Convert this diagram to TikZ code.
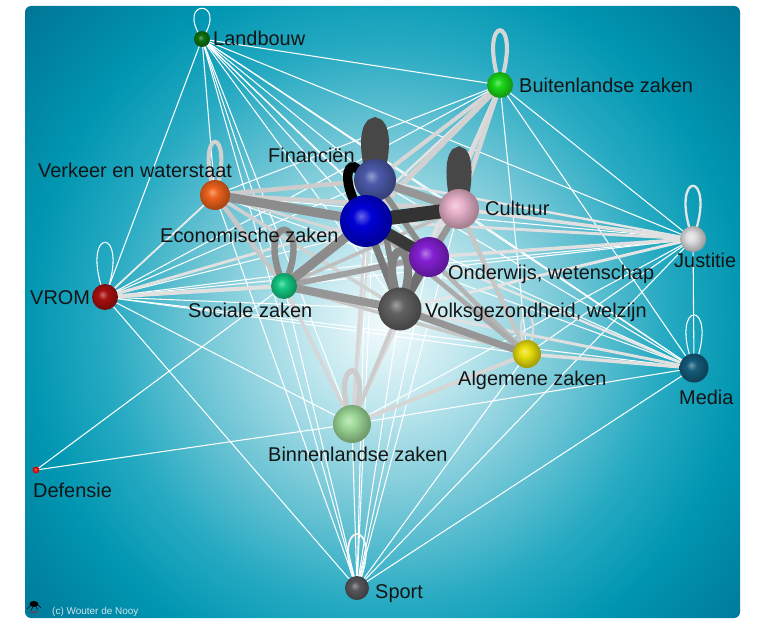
\documentclass[tikz,border=0pt]{standalone}
\usepackage{fontspec}
\setmainfont{Liberation Sans}
\usetikzlibrary{positioning}

% background glow
\definecolor{glowA}{RGB}{242,251,252}
\definecolor{glowB}{RGB}{192,231,238}
\definecolor{glowC}{RGB}{118,200,215}
\definecolor{glowD}{RGB}{38,170,194}
\definecolor{glowE}{RGB}{0,150,177}
\definecolor{glowF}{RGB}{0,112,146}
\pgfdeclareradialshading{panelglow}{\pgfpoint{0bp}{0bp}}{color(0bp)=(glowA); color(4bp)=(glowB); color(9bp)=(glowC); color(14bp)=(glowD); color(18bp)=(glowE); color(25bp)=(glowF); color(50bp)=(glowF)}
\colorlet{ballcol}{gray}
\pgfdeclareradialshading[ballcol]{softball}{\pgfpoint{-5bp}{5bp}}{color(0bp)=(ballcol!60!white); color(9bp)=(ballcol); color(25bp)=(ballcol!72!black); color(50bp)=(ballcol!72!black)}

% actor colours
\definecolor{lbcol}{RGB}{15,112,15}
\definecolor{bzcol}{RGB}{25,215,25}
\definecolor{fincol}{RGB}{75,90,170}
\definecolor{vwcol}{RGB}{238,98,28}
\definecolor{culcol}{RGB}{232,178,202}
\definecolor{ezcol}{RGB}{0,0,215}
\definecolor{juscol}{RGB}{222,222,224}
\definecolor{owcol}{RGB}{132,32,212}
\definecolor{vromcol}{RGB}{168,15,15}
\definecolor{szcol}{RGB}{20,200,130}
\definecolor{vgcol}{RGB}{98,98,98}
\definecolor{azcol}{RGB}{232,222,12}
\definecolor{medcol}{RGB}{20,92,122}
\definecolor{bizcol}{RGB}{158,218,152}
\definecolor{defcol}{RGB}{232,20,20}
\definecolor{spcol}{RGB}{88,88,92}
\definecolor{creditcol}{RGB}{205,228,234}

\pgfdeclarelayer{panel}
\pgfdeclarelayer{ties}
\pgfsetlayers{panel,ties,main}

\begin{document}
\begin{tikzpicture}[x=0.03cm, y=-0.03cm,
    actor/.style={circle, inner sep=0pt, minimum size=#1*0.03cm, shade, shading=softball},
    paint/.code={\colorlet{ballcol}{#1}},
    lbl/.style={inner sep=0pt, anchor=base west, text=black!92, font=\fontsize{17}{20}\selectfont},
    tie/.style={line width=0.9pt, white}]

    \useasboundingbox (0,0) rectangle (761,619);

    % actors
    \node[actor=16, paint=lbcol] (lb) at (202,39) {};
    \node[actor=26, paint=bzcol] (bz) at (500,85) {};
    \node[actor=30, paint=vwcol] (vw) at (215,195) {};
    \node[actor=26, paint=vromcol] (vrom) at (105,297) {};
    \node[actor=26, paint=juscol] (jus) at (693,239) {};
    \node[actor=29, paint=medcol] (med) at (694,368) {};
    \node[actor=7, paint=defcol] (def) at (36,470) {};
    \node[actor=24, paint=spcol] (sp) at (357,588) {};
    \node[actor=38, paint=bizcol] (biz) at (352,424) {};
    \node[actor=28, paint=azcol] (az) at (527,354) {};
    \node[actor=26, paint=szcol] (sz) at (284,286) {};
    \node[actor=43, paint=vgcol] (vg) at (400,309) {};
    \node[actor=40, paint=owcol] (ow) at (429,257) {};
    \node[actor=40, paint=culcol] (cul) at (459,209) {};
    \node[actor=42, paint=fincol] (fin) at (375,180) {};
    \node[actor=52, paint=ezcol] (ez) at (366,221) {};

    % labels
    \node[lbl] (t-lb) at (213,46) {Landbouw};
    \node[lbl] (t-bz) at (519,92) {Buitenlandse zaken};
    \node[lbl] (t-fin) at (268,162) {Financiën};
    \node[lbl] (t-vw) at (38,177) {Verkeer en waterstaat};
    \node[lbl] (t-ez) at (160,242) {Economische zaken};
    \node[lbl] (t-cul) at (485,215) {Cultuur};
    \node[lbl] (t-jus) at (674,267) {Justitie};
    \node[lbl] (t-ow) at (448,279) {Onderwijs, wetenschap};
    \node[lbl] (t-vrom) at (30,304) {VROM};
    \node[lbl] (t-sz) at (188,317) {Sociale zaken};
    \node[lbl] (t-vg) at (425,317) {Volksgezondheid, welzijn};
    \node[lbl] (t-az) at (458,385) {Algemene zaken};
    \node[lbl] (t-med) at (679,404) {Media};
    \node[lbl] (t-biz) at (268,461) {Binnenlandse zaken};
    \node[lbl] (t-def) at (33,497) {Defensie};
    \node[lbl] (t-sp) at (375,598) {Sport};

    % credit
    \fill[black] (34,604) ellipse (4.5 and 3);
    \draw[black, line width=0.4pt] (30,606) -- (27,609) (33,607) -- (31,610) (36,607) -- (38,610) (38,605) -- (41,608);
    \node[inner sep=0pt, text=red!80!black, font=\fontsize{2.8}{3}\selectfont] (pajek) at (34,613) {Pajek};
    \node[inner sep=0pt, anchor=base west, text=creditcol, font=\fontsize{8.5}{10}\selectfont] (credit) at (52,614) {(c) Wouter de Nooy};

    \begin{pgfonlayer}{panel}
        \fill[white] (0,0) rectangle (761,619);
        \begin{scope}
            \clip[rounded corners=0.18cm] (25,6) rectangle (740,618);
            \shade[shading=panelglow] (385,325) circle (500);
        \end{scope}
    \end{pgfonlayer}

    \begin{pgfonlayer}{ties}
        % weak ties
        \foreach \a/\b in {lb/bz, lb/vw, lb/fin, lb/ez, lb/cul, lb/ow, lb/sz, lb/vg, lb/az, lb/jus, lb/med, lb/biz, lb/sp, lb/vrom,
                bz/vw, bz/sz, bz/az, bz/med, bz/jus, bz/biz, bz/vrom,
                vrom/vw, vrom/fin, vrom/cul, vrom/ow, vrom/az, vrom/jus, vrom/med, vrom/biz, vrom/sp, vrom/vg,
                jus/vw, jus/sz, jus/biz, jus/sp, jus/med, jus/az,
                med/vw, med/fin, med/sz, med/biz, med/sp, med/ez, med/cul,
                sp/vw, sp/sz, sp/ez, sp/fin, sp/cul, sp/ow, sp/vg, sp/biz, sp/az,
                def/sz, def/biz}
            \draw[tie] (\a.center) -- (\b.center);
        \foreach \n/\h/\s/\w/\k in {lb/41/28/0.9/0, vrom/73/28/0.9/0, med/71/28/0.9/0, sp/72/31/1.5/4, jus/71/26/2/10}
            \draw[line width=\w pt, draw=black!\k] (\n.center) .. controls +(-\s,-\h) and +(\s,-\h) .. (\n.center);

        % stronger ties, light to dark
        \foreach \a/\b/\w/\k in {bz/sz/2/10, bz/vg/2.5/12, bz/ow/3/14, bz/fin/3.5/16, bz/cul/4/16, bz/ez/5/18,
                vrom/vw/1.5/8, vrom/ez/2.5/12, vrom/sz/3.5/12,
                jus/fin/2/10, jus/vg/2.5/10, jus/ez/2.5/12, jus/ow/3/12, jus/cul/3/12,
                med/ow/2/10, med/vg/2.5/12, med/az/3/12,
                biz/fin/2/14, biz/ow/2/14, biz/ez/2.5/16, biz/sz/3/16, biz/az/3.5/16, biz/vg/3.5/20,
                vw/ow/2.5/16, vw/vg/3/18, vw/cul/4/18, vw/fin/4/20, vw/sz/4/22,
                cul/az/4/22, sz/az/3/22, sz/cul/3/25, ow/az/4/29, ez/az/4/33}
            \draw[line width=\w pt, draw=black!\k] (\a.center) -- (\b.center);
        \foreach \n/\h/\s/\w/\k in {bz/73/24/3.5/16, vw/71/22/3.5/18, biz/71/26/4.5/20, az/53/21/2/14}
            \draw[line width=\w pt, draw=black!\k] (\n.center) .. controls +(-\s,-\h) and +(\s,-\h) .. (\n.center);

        \foreach \a/\b/\w/\k in {sz/ow/5/37, cul/vg/5/41, cul/ow/5/41, fin/ow/5/45, fin/vg/5/49, fin/cul/7/41,
                vg/az/6/41, sz/vg/7/41, sz/ez/8/45, vw/ez/8/45, ez/vg/6/53, ow/vg/8/57}
            \draw[line width=\w pt, draw=black!\k] (\a.center) -- (\b.center);
        \foreach \n/\h/\s/\w/\k in {sz/75/33/5.5/45, vg/77/28/7/50}
            \draw[line width=\w pt, draw=black!\k] (\n.center) .. controls +(-\s,-\h) and +(\s,-\h) .. (\n.center);

        % core
        \draw[line width=8pt, black] (ez.center) .. controls +(-44,-62) and +(6,-82) .. (ez.center);
        \foreach \n/\h/\s/\w/\k in {fin/73/22/13/72, cul/73/18/12.5/72}
            \draw[line width=\w pt, draw=black!\k] (\n.center) .. controls +(-\s,-\h) and +(\s,-\h) .. (\n.center);
        \draw[line width=10pt, black!78] (ez.center) -- (ow.center);
        \draw[line width=12pt, black!80] (ez.center) -- (cul.center);
    \end{pgfonlayer}
\end{tikzpicture}
\end{document}
